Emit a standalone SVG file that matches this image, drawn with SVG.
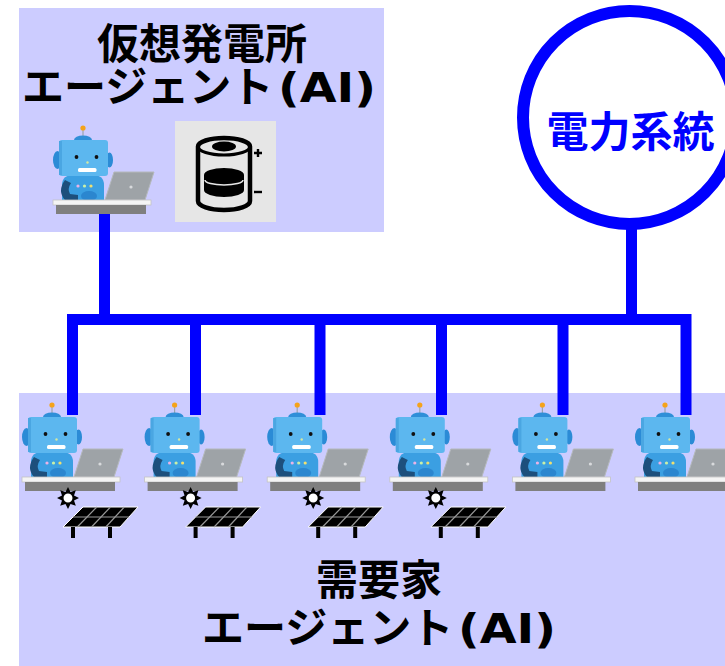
<svg xmlns="http://www.w3.org/2000/svg" xmlns:xlink="http://www.w3.org/1999/xlink" width="725" height="666" viewBox="0 0 725 666">
  <style>
    .panel { fill: #ccccff; }
    .title { font-family: "Noto Sans CJK JP", "Noto Sans", sans-serif; font-weight: bold; font-size: 42px; fill: #000; }
    .latin { font-family: "DejaVu Sans", "Noto Sans", sans-serif; font-weight: bold; font-size: 40px; }
    .grid-label { font-family: "Noto Sans CJK JP", "Noto Sans", sans-serif; font-weight: bold; font-size: 42px; fill: #0000ff; }
    .wire { fill: none; stroke: #0000ff; stroke-width: 11; stroke-linecap: butt; stroke-linejoin: miter; }
  </style>
  <defs>
    <!-- robot working at a laptop on a desk -->
    <g id="robot">
      <line x1="52" y1="406" x2="52" y2="414" stroke="#9aa4ad" stroke-width="1.2"/>
      <circle cx="52" cy="405" r="2.6" fill="#f5a31a"/>
      <ellipse cx="52" cy="417" rx="9" ry="4.5" fill="#2f8fd8"/>
      <ellipse cx="26.5" cy="437" rx="4.5" ry="9" fill="#2b8bd6"/>
      <ellipse cx="78.5" cy="437" rx="3.5" ry="7.5" fill="#2b8bd6"/>
      <path d="M31,478 V462 Q31,452 42,452 H62 Q73,452 73,462 V478 Z" fill="#3b9fe2"/>
      <ellipse cx="58" cy="473" rx="8" ry="5" fill="#2b86cf"/>
      <path d="M34,457 Q26,468 34,477 L47,478 L47,472 L39,471 Q36,466 40,460 Z" fill="#1d4f7c"/>
      <rect x="28" y="417" width="49" height="36" rx="3" fill="#5cb7ef"/>
      <rect x="28" y="418" width="3" height="34" fill="#4aa6e2"/>
      <circle cx="45.5" cy="434" r="1.9" fill="#111"/>
      <circle cx="65.5" cy="434" r="1.9" fill="#111"/>
      <circle cx="56.5" cy="439.5" r="1.2" fill="#d5e8a0"/>
      <rect x="47" y="445" width="18.5" height="4" rx="1.5" fill="#ffffff"/>
      <circle cx="47" cy="463" r="1.6" fill="#eab3e6"/>
      <circle cx="53.5" cy="463" r="1.6" fill="#c9f0a8"/>
      <circle cx="60" cy="463" r="1.6" fill="#f0e070"/>
      <polygon points="83,449 123,449 114,477 74,477" fill="#9ea3a7" stroke="#b5b9bc" stroke-width="1"/>
      <circle cx="100" cy="464" r="1.6" fill="#d8dadc"/>
      <rect x="22" y="477" width="98" height="5" fill="#f4f4f4" stroke="#c4c4c4" stroke-width="0.8"/>
      <rect x="25" y="482" width="90" height="9" fill="#7f7f7f"/>
    </g>
    <!-- sun over a solar panel -->
    <g id="solar">
      <polygon points="68,487 70.5,492 75.8,490.2 74,495.5 79,498 74,500.5 75.8,505.8 70.5,504 68,509 65.5,504 60.2,505.8 62,500.5 57,498 62,495.5 60.2,490.2 65.5,492" fill="#000"/>
      <circle cx="68" cy="498" r="5.2" fill="#ffffff" stroke="#000" stroke-width="1.4"/>
      <polygon points="83,507 138,507 120,527 63,527" fill="#000" stroke="#ffffff" stroke-width="1"/>
      <g stroke="#9a9a9a" stroke-width="1.2">
        <line x1="73" y1="517" x2="129" y2="517"/>
        <line x1="96.8" y1="507" x2="77.3" y2="527"/>
        <line x1="110.5" y1="507" x2="91.5" y2="527"/>
        <line x1="124.3" y1="507" x2="105.8" y2="527"/>
      </g>
      <rect x="71" y="527" width="4" height="11" fill="#000"/>
      <rect x="108" y="527" width="4" height="11" fill="#000"/>
    </g>
  </defs>

  <rect width="725" height="666" fill="#ffffff"/>

  <!-- virtual power plant agent -->
  <g id="vpp-agent">
    <rect class="panel" x="19" y="8" width="365" height="224"/>
    <text class="title" text-anchor="start"><tspan x="97" y="59">仮想発電所</tspan><tspan x="22" y="102">エージェント</tspan><tspan class="latin" x="278" y="102" textLength="98" lengthAdjust="spacingAndGlyphs">(AI)</tspan></text>
    <use xlink:href="#robot" href="#robot" transform="translate(31,-277)"/>
    <g id="battery">
      <rect x="175" y="121" width="101" height="101" fill="#e6e6e6"/>
      <path d="M198,146.5 A26,8.5 0 0 1 250,146.5 V201 A26,9 0 0 1 198,201 Z" fill="none" stroke="#000" stroke-width="4.5"/>
      <path d="M198,146.5 A26,8.5 0 0 0 250,146.5" fill="none" stroke="#000" stroke-width="3"/>
      <ellipse cx="224" cy="146.5" rx="12" ry="5" fill="#000"/>
      <path d="M204,175 A20,7 0 0 1 244,175 V190 A20,7 0 0 1 204,190 Z" fill="#000"/>
      <path d="M205,180 A19,5 0 0 0 243,180" fill="none" stroke="#e6e6e6" stroke-width="1.5"/>
      <path d="M254,153 H262 M258,149 V157" stroke="#000" stroke-width="2.4"/>
      <path d="M254,192 H262" stroke="#000" stroke-width="2.4"/>
    </g>
  </g>

  <!-- power grid -->
  <g id="power-grid">
    <circle cx="629.5" cy="117.5" r="106.5" fill="#ffffff" stroke="#0000ff" stroke-width="12"/>
    <text class="grid-label" x="630.5" y="147" text-anchor="middle">電力系統</text>
  </g>

  <!-- consumer agents -->
  <g id="consumer-agents">
    <rect class="panel" x="19" y="393" width="706" height="273"/>
    <text class="title" text-anchor="start"><tspan x="316" y="595">需要家</tspan><tspan x="202" y="643">エージェント</tspan><tspan class="latin" x="458" y="643" textLength="98" lengthAdjust="spacingAndGlyphs">(AI)</tspan></text>
    <g id="consumer-1"><use xlink:href="#robot" href="#robot"/><use xlink:href="#solar" href="#solar"/></g>
    <g id="consumer-2" transform="translate(122.6,0)"><use xlink:href="#robot" href="#robot"/><use xlink:href="#solar" href="#solar"/></g>
    <g id="consumer-3" transform="translate(245.2,0)"><use xlink:href="#robot" href="#robot"/><use xlink:href="#solar" href="#solar"/></g>
    <g id="consumer-4" transform="translate(367.8,0)"><use xlink:href="#robot" href="#robot"/><use xlink:href="#solar" href="#solar"/></g>
    <g id="consumer-5" transform="translate(490.4,0)"><use xlink:href="#robot" href="#robot"/></g>
    <g id="consumer-6" transform="translate(613,0)"><use xlink:href="#robot" href="#robot"/></g>
  </g>

  <!-- power lines -->
  <g id="connectors" class="wire">
    <path d="M72.5,415 V319.5 H686 V415"/>
    <path d="M104.5,214 V319.5"/>
    <path d="M631.5,223 V319.5"/>
    <path d="M195.5,319.5 V415"/>
    <path d="M320,319.5 V415"/>
    <path d="M441.5,319.5 V415"/>
    <path d="M563,319.5 V415"/>
  </g>
</svg>
